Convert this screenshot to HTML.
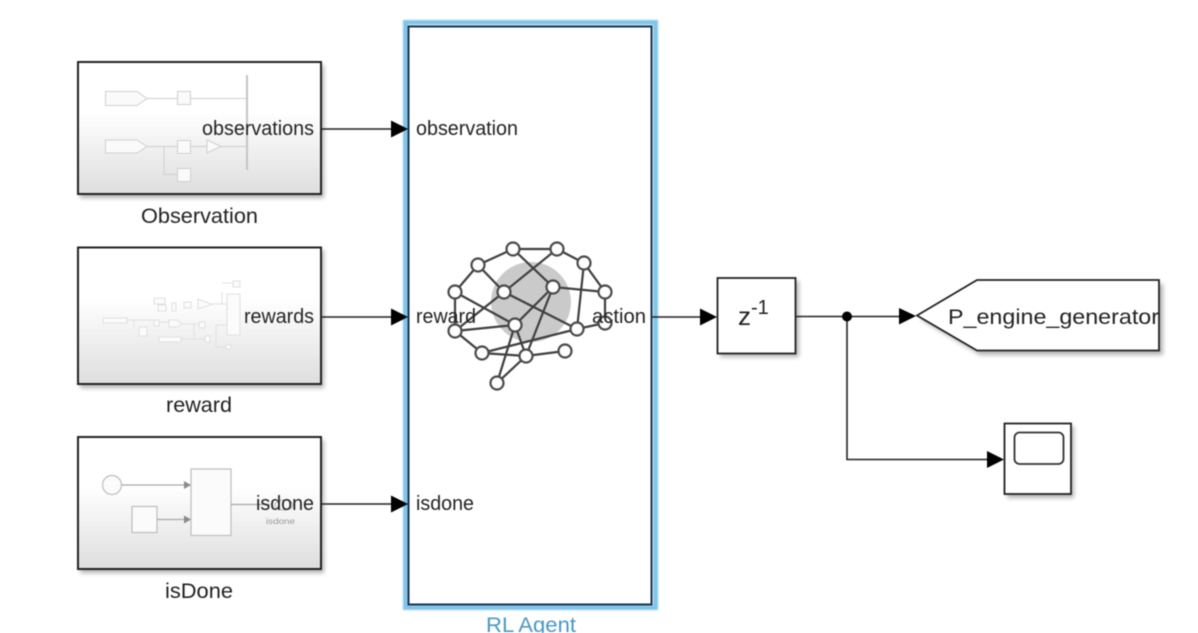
<!DOCTYPE html>
<html>
<head>
<meta charset="utf-8">
<style>
html,body{margin:0;padding:0;background:#fff;width:1198px;height:633px;overflow:hidden}
svg{display:block;filter:blur(0.6px)}
text{font-family:"Liberation Sans",sans-serif;fill:#222;font-size:20px}
</style>
</head>
<body>
<svg width="1198" height="633" viewBox="0 0 1198 633" xmlns="http://www.w3.org/2000/svg">
<defs>
<linearGradient id="g" x1="0" y1="0" x2="0" y2="1">
<stop offset="0" stop-color="#fff"/>
<stop offset="0.38" stop-color="#fff"/>
<stop offset="1" stop-color="#dedede"/>
</linearGradient>
<filter id="s" x="-10%" y="-10%" width="125%" height="125%">
<feGaussianBlur stdDeviation="2"/>
</filter>
<filter id="h" x="-5%" y="-5%" width="110%" height="110%">
<feGaussianBlur stdDeviation="0.8"/>
</filter>
</defs>

<!-- Shadows -->
<g fill="#777" opacity="0.55" filter="url(#s)">
<rect x="80" y="65" width="244" height="133"/>
<rect x="80" y="250" width="244" height="138"/>
<rect x="80" y="440" width="244" height="133"/>
<rect x="720" y="281" width="79" height="76"/>
<rect x="1007" y="426" width="67" height="72"/>
<polygon points="920,319 980,284 1163,284 1163,355 980,355"/>
</g>

<!-- Observation -->
<rect x="78" y="62" width="243" height="132" fill="url(#g)" stroke="#222" stroke-width="2"/>
<g fill="#fafafa" stroke="#cfcfcf" stroke-width="1">
<path d="M105.500 91.500H137L147 98.500L137 105.500H105.500Z"/>
<path d="M105.500 140H137L147 146.500L137 153H105.500Z"/>
<rect x="177.500" y="91.500" width="13" height="13"/>
<rect x="177.500" y="140.500" width="13" height="13"/>
<rect x="177.500" y="168.500" width="13" height="13"/>
<path d="M207 140L221 146.500L207 153Z"/>
<path d="M147 98.500H177M190 98.500H246M147 146.500H177M190 146.500H207M221 146.500H246M164 146.500V174.500H177" fill="none"/>
</g>
<path d="M247 75V170" stroke="#c4c4c4" stroke-width="2"/>
<text x="202" y="135" textLength="112" lengthAdjust="spacingAndGlyphs">observations</text>
<text x="141" y="223" textLength="117" lengthAdjust="spacingAndGlyphs" style="font-size:21px">Observation</text>

<!-- reward -->
<rect x="78" y="247.500" width="243" height="136.500" fill="url(#g)" stroke="#222" stroke-width="2"/>
<g fill="#fbfbfb" stroke="#e0e0e0" stroke-width="1">
<rect x="103" y="318" width="24" height="5"/>
<rect x="154" y="298" width="11" height="6"/>
<rect x="158" y="305" width="8" height="6"/>
<rect x="172" y="303" width="4" height="8" />
<rect x="184" y="302" width="7" height="6"/>
<path d="M198 299L212 304.500L198 309Z"/>
<rect x="227" y="294" width="13" height="41"/>
<rect x="233" y="281" width="7" height="6"/>
<rect x="139" y="327" width="8" height="9"/>
<rect x="154" y="320" width="5" height="6"/>
<path d="M169 320H177L182 324L177 327H169Z"/>
<rect x="199" y="322" width="6" height="6"/>
<rect x="159" y="337" width="22" height="5"/>
<rect x="205" y="336" width="5" height="6"/>
<rect x="226" y="345" width="5" height="4"/>
<path d="M127 320H154M134 320V328M159 322H169M182 324H199M194 324V339M181 339H205M216 325H227M216 325V347H226M222 292V304H227M222 283H233M212 304H227" fill="none"/>
</g>
<text x="244" y="323" textLength="70" lengthAdjust="spacingAndGlyphs">rewards</text>
<text x="166" y="412" textLength="66" lengthAdjust="spacingAndGlyphs" style="font-size:21px">reward</text>

<!-- isDone -->
<rect x="78" y="437" width="243" height="132" fill="url(#g)" stroke="#222" stroke-width="2"/>
<g fill="#fbfbfb" stroke="#bdbdbd" stroke-width="1.200">
<circle cx="112" cy="485" r="9.500"/>
<rect x="132" y="506.500" width="25" height="26"/>
<rect x="191" y="469" width="40" height="66.500"/>
<ellipse cx="284" cy="505" rx="9" ry="5" fill="none"/>
</g>
<path d="M122 485H184M157 519.500H184M231 504.500H270" stroke="#a8a8a8" stroke-width="1.300" fill="none"/>
<path d="M184 481L191 485L184 489ZM184 515.500L191 519.500L184 523.500Z" fill="#8a8a8a"/>
<text x="256" y="510" textLength="58" lengthAdjust="spacingAndGlyphs">isdone</text>
<text x="266" y="524" textLength="29" lengthAdjust="spacingAndGlyphs" style="font-size:8px;fill:#999">isdone</text>
<text x="165" y="598" textLength="68" lengthAdjust="spacingAndGlyphs" style="font-size:21px">isDone</text>

<!-- RL Agent -->
<rect x="405.500" y="22.500" width="250" height="585" fill="#fff" stroke="#7fc4ec" stroke-width="5" filter="url(#h)"/>
<rect x="408.500" y="26.500" width="243" height="578" fill="#fff" stroke="#16364f" stroke-width="2"/>
<text x="486" y="632" textLength="90" lengthAdjust="spacingAndGlyphs" style="fill:#4a97c4;font-size:21px">RL Agent</text>

<!-- Network -->
<circle cx="531" cy="302" r="40" fill="#cacaca"/>
<g stroke="#3f3f3f" stroke-width="2.200" fill="none">
<path d="M478 265L513 249L557 249L584 263L605 292L605 323"/>
<path d="M478 265L455 292L455 331L482 353L526 356L565 351"/>
<path d="M478 265L504 292L577 329L605 323"/>
<path d="M513 249L553 287L605 292"/>
<path d="M557 249L504 292L455 331L515 325L553 287L526 356L515 325L497 383L526 356"/>
<path d="M455 292L515 325"/>
<path d="M482 353L577 329L584 263"/>
</g>
<g fill="#fff" stroke="#4a4a4a" stroke-width="2.200">
<circle cx="513" cy="249" r="6.500"/>
<circle cx="557" cy="249" r="6.500"/>
<circle cx="584" cy="263" r="6.500"/>
<circle cx="605" cy="292" r="6.500"/>
<circle cx="605" cy="323" r="6.500"/>
<circle cx="577" cy="329" r="6.500"/>
<circle cx="565" cy="351" r="6.500"/>
<circle cx="526" cy="356" r="6.500"/>
<circle cx="482" cy="353" r="6.500"/>
<circle cx="455" cy="331" r="6.500"/>
<circle cx="455" cy="292" r="6.500"/>
<circle cx="478" cy="265" r="6.500"/>
<circle cx="504" cy="292" r="6.500"/>
<circle cx="553" cy="287" r="6.500"/>
<circle cx="515" cy="325" r="6.500"/>
<circle cx="497" cy="383" r="6.500"/>
</g>

<text x="416" y="135" textLength="102" lengthAdjust="spacingAndGlyphs">observation</text>
<text x="416" y="323" textLength="60" lengthAdjust="spacingAndGlyphs">reward</text>
<text x="416" y="510" textLength="58" lengthAdjust="spacingAndGlyphs">isdone</text>
<text x="592" y="323" textLength="54" lengthAdjust="spacingAndGlyphs">action</text>

<!-- Wires -->
<g stroke="#222" stroke-width="1.600" fill="none">
<path d="M321 129H392M321 317H392M321 504H392"/>
<path d="M652 317H702"/>
<path d="M796 316.500H900"/>
<path d="M847 316.500V459.500H988"/>
</g>
<g fill="#000">
<path d="M391 120.500L408 129L391 137.500Z"/>
<path d="M391 308.500L408 317L391 325.500Z"/>
<path d="M391 495.500L408 504L391 512.500Z"/>
<path d="M700 308.500L717 317L700 325.500Z"/>
<path d="M899 308L916 316L899 324.500Z"/>
<path d="M987 451L1004 459.500L987 468Z"/>
<circle cx="847" cy="316.500" r="5"/>
</g>

<!-- Unit delay -->
<rect x="717.500" y="278" width="78" height="75.500" fill="#fff" stroke="#222" stroke-width="1.800"/>
<text x="738" y="325" style="font-size:26px">z</text>
<text x="751" y="314" style="font-size:20px">-1</text>

<!-- Goto -->
<path d="M917 315.500L977 280H1159V350.500H977Z" fill="#fff" stroke="#222" stroke-width="1.800"/>
<text x="948" y="324" textLength="211" lengthAdjust="spacingAndGlyphs" style="font-size:21px">P_engine_generator</text>

<!-- Scope -->
<rect x="1004.500" y="423.500" width="66.500" height="70.500" fill="#fff" stroke="#222" stroke-width="1.800"/>
<rect x="1014.500" y="432.500" width="49" height="31.500" rx="5" fill="#fff" stroke="#333" stroke-width="1.800"/>
</svg>
</body>
</html>
